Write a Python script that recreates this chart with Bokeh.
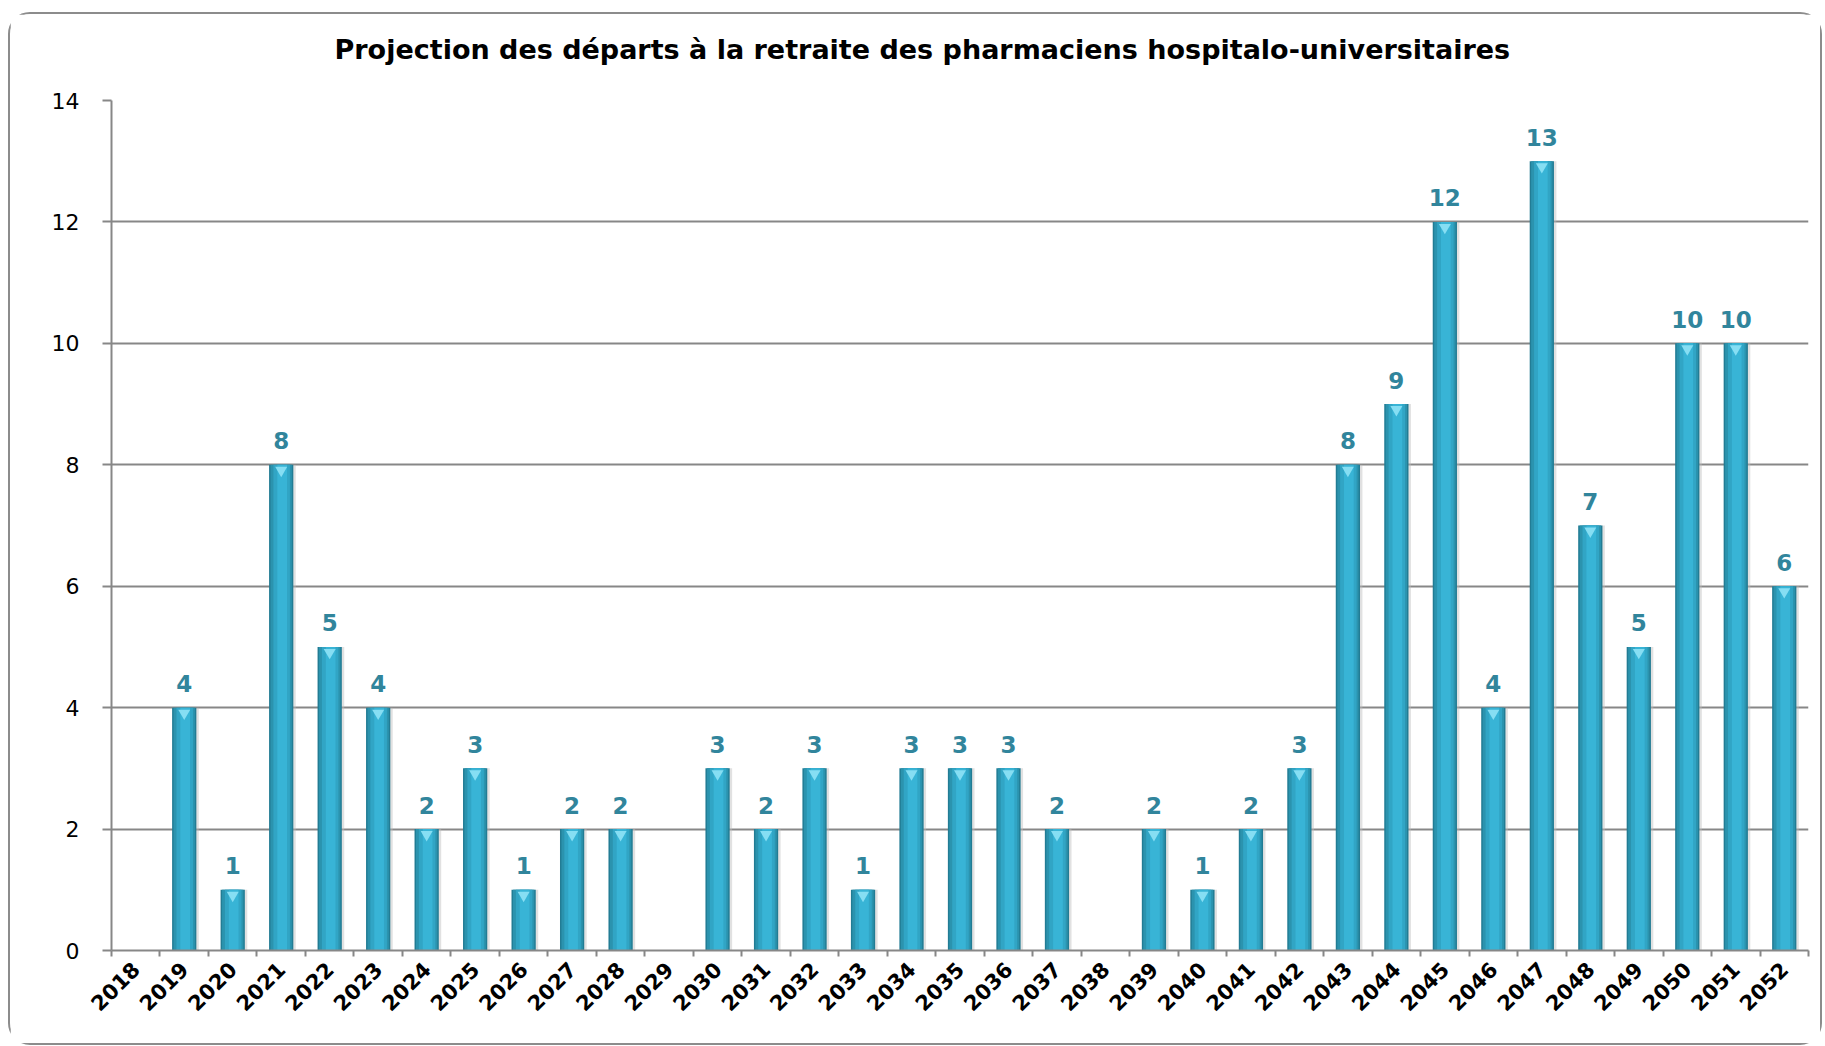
import numpy as np
from bokeh.plotting import figure
from bokeh.models import ColumnDataSource, FixedTicker, Range1d, Title, LinearAxis
from bokeh.transform import dodge
from bokeh.core.properties import value
from bokeh.embed import file_html
from bokeh.resources import INLINE

# ---- data ----
title_text = "Projection des départs à la retraite des pharmaciens hospitalo-universitaires"
years = ["2018", "2019", "2020", "2021", "2022", "2023", "2024", "2025", "2026",
         "2027", "2028", "2029", "2030", "2031", "2032", "2033", "2034", "2035",
         "2036", "2037", "2038", "2039", "2040", "2041", "2042", "2043", "2044",
         "2045", "2046", "2047", "2048", "2049", "2050", "2051", "2052"]
departures = [0, 4, 1, 8, 5, 4, 2, 3, 1, 2, 2, 0, 3, 2, 3, 1, 3, 3, 3, 2, 0,
              2, 1, 2, 3, 8, 9, 12, 4, 13, 7, 5, 10, 10, 6]
y_ticks = [0, 2, 4, 6, 8, 10, 12, 14]

# ---- source (only non-empty years get a bar / label) ----
xs = [i for i, v in enumerate(departures) if v > 0]
tops = [departures[i] for i in xs]
src = ColumnDataSource(dict(x=xs, top=tops, label=[str(v) for v in tops]))

GRID = "#878787"
p = figure(width=1810, height=1029, title=None,
           x_range=Range1d(-0.5, len(years) - 0.5),
           y_range=Range1d(0, 14),
           output_backend="svg", toolbar_location=None,
           min_border_left=101, min_border_right=16,
           min_border_top=86, min_border_bottom=97)
p.outline_line_color = None
p.background_fill_color = "white"
p.border_fill_color = "white"
p.styles = {"margin-left": "8px", "margin-top": "12px",
            "border": "2px solid #8c8c8c", "border-radius": "22px",
            "box-sizing": "content-box"}

# the real category axis (below the frame)
xa = p.below[0]

# invisible axis used only as a spacer between the frame and the title
spacer = LinearAxis(ticker=FixedTicker(ticks=[0]), axis_line_color=None,
                    major_tick_line_color=None, minor_tick_line_color=None,
                    major_tick_in=0, major_tick_out=36, minor_tick_in=0,
                    minor_tick_out=0, major_label_standoff=0,
                    major_label_overrides={0: " "},
                    major_label_text_font_size="1px",
                    major_label_text_alpha=0)
p.add_layout(spacer, "above")
p.add_layout(Title(text=title_text, align="left", offset=223,
                   standoff=0, text_font="DejaVu Sans",
                   text_font_style="bold", text_font_size="27px",
                   text_color="black"), "above")

# x axis: labels at centers, ticks between categories
xa.ticker = FixedTicker(ticks=list(range(len(years))),
                        minor_ticks=[i - 0.5 for i in range(len(years) + 1)])
xa.major_label_overrides = {i: y for i, y in enumerate(years)}
xa.major_tick_line_color = None
xa.minor_tick_line_color = GRID
xa.minor_tick_line_width = 2
xa.minor_tick_in = 0
xa.minor_tick_out = 6
xa.axis_line_color = GRID
xa.axis_line_width = 2
xa.major_label_orientation = np.pi / 4
xa.major_label_text_font = "DejaVu Sans"
xa.major_label_text_font_style = "bold"
xa.major_label_text_font_size = "21px"
xa.major_label_text_color = "black"
xa.major_label_standoff = 9

# y axis
ya = p.left[0]
ya.ticker = FixedTicker(ticks=y_ticks)
ya.minor_tick_line_color = None
ya.major_tick_in = 0
ya.major_tick_out = 9
ya.major_tick_line_color = GRID
ya.major_tick_line_width = 2
ya.axis_line_color = GRID
ya.axis_line_width = 2
ya.major_label_text_font = "DejaVu Sans"
ya.major_label_text_font_size = "22px"
ya.major_label_text_color = "black"
ya.major_label_standoff = 23

p.xgrid.visible = False
p.ygrid.ticker = FixedTicker(ticks=y_ticks)
p.ygrid.grid_line_color = GRID
p.ygrid.grid_line_width = 2

# ---- bars (layered to suggest the cylinder shading) ----
p.vbar(x=dodge("x", 0.05, range=p.x_range), top="top", bottom=0, width=0.5,
       source=src, fill_color="#bdbdbd", fill_alpha=0.45, line_color=None)
p.vbar(x="x", top="top", bottom=0, width=0.5, source=src,
       fill_color="#227c94", line_color=None)
p.vbar(x="x", top="top", bottom=0, width=0.44, source=src,
       fill_color="#2b93ae", line_color=None)
p.vbar(x=dodge("x", 0.01, range=p.x_range), top="top", bottom=0, width=0.34,
       source=src, fill_color="#31a5c5", line_color=None)
p.vbar(x=dodge("x", 0.02, range=p.x_range), top="top", bottom=0, width=0.2,
       source=src, fill_color="#38b4d6", line_color=None)
p.scatter(x="x", y=dodge("top", -0.09, range=p.y_range), source=src,
          marker="inverted_triangle", size=12, fill_color="#86def3",
          line_color=None)

# value labels
p.text(x="x", y="top", text="label", source=src, text_align="center",
       text_baseline="alphabetic", y_offset=-24,
       text_font=value("DejaVu Sans"), text_font_style="bold",
       text_font_size="23px", text_color="#31859C")

open("out.html", "w").write(file_html(p, INLINE))
